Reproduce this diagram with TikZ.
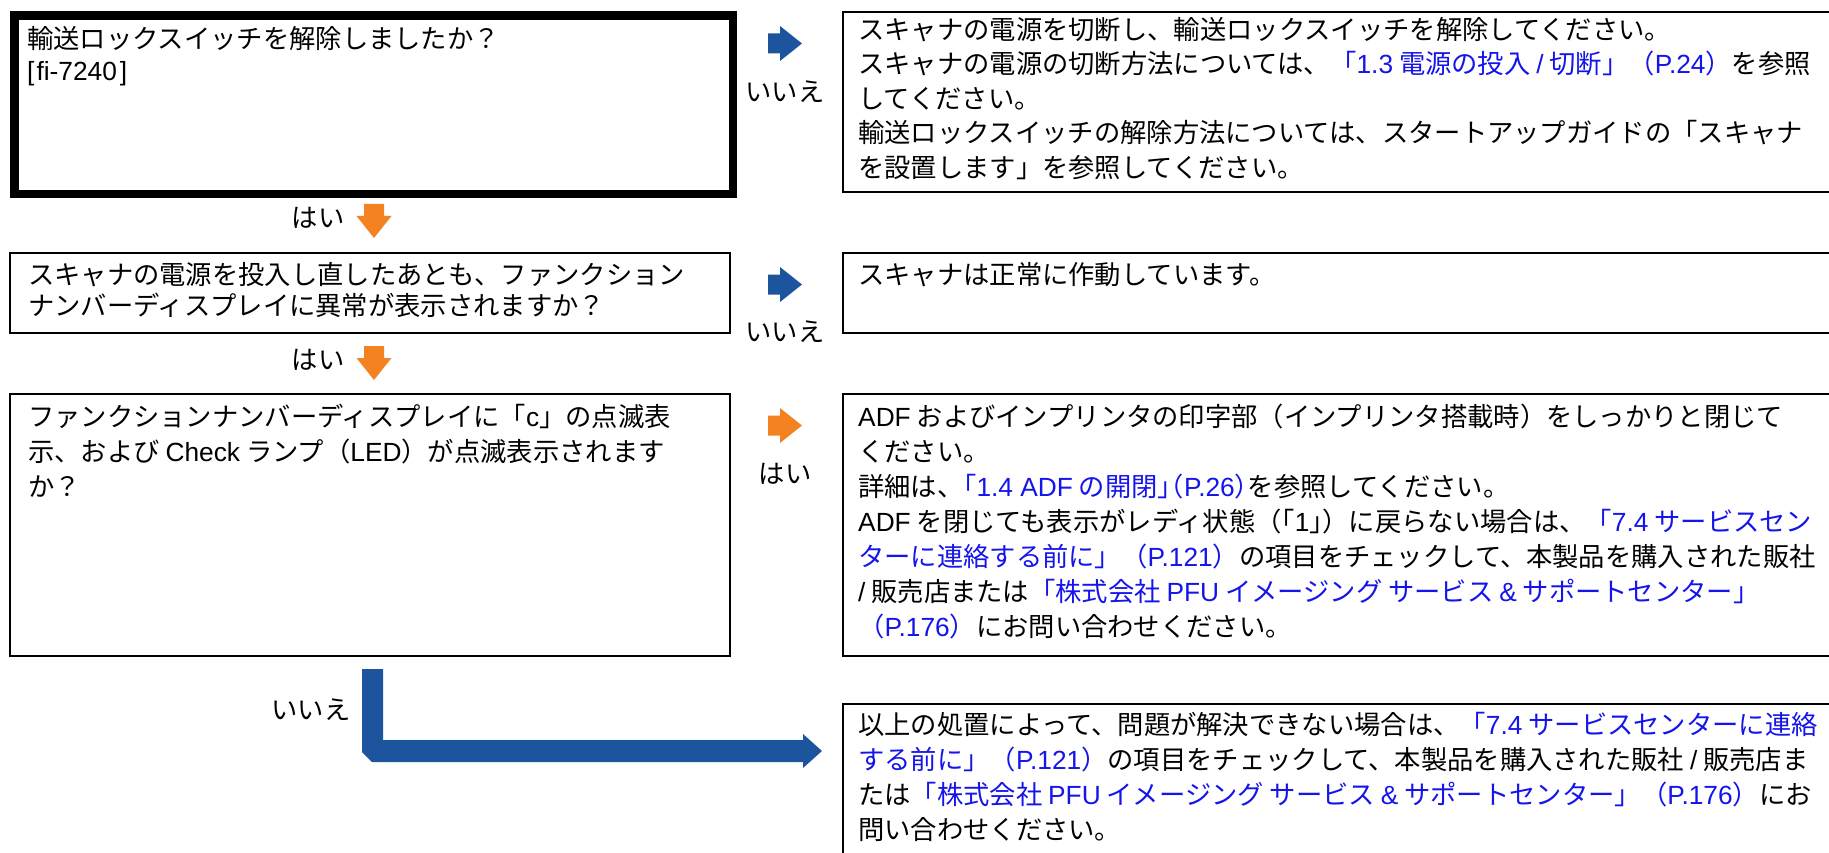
\documentclass[tikz,border=0pt]{standalone}
\usepackage{fontspec}
\setmainfont{Noto Sans CJK JP}
\newfontfamily\latinfont{Liberation Sans}
\definecolor{arrowblue}{RGB}{28,84,158}
\definecolor{arroworange}{RGB}{245,130,32}
\definecolor{linkblue}{RGB}{20,20,235}
\newcommand\ltn[1]{{\latinfont #1}}
\newcommand\lk[1]{{\color{linkblue}#1}}
\newcommand\hw[1]{{\addfontfeature{RawFeature=+halt}#1}}
\begin{document}
\begin{tikzpicture}[x=1pt,y=-1pt,
  box/.style={draw=black, line width=2pt, inner sep=0pt, anchor=north west},
  txt/.style={anchor=north west, inner sep=0pt, align=left, font=\fontsize{26.3}{35}\selectfont},
  lbl/.style={inner sep=0pt, font=\fontsize{26.3}{30}\selectfont},
  rarr/.pic={\fill (-17,-10) -- (-5,-10) -- (-5,-17.5) -- (17,0) -- (-5,17.5) -- (-5,10) -- (-17,10) -- cycle;},
  darr/.pic={\fill (-10,-17) -- (10,-17) -- (10,-5) -- (17.5,-5) -- (0,17) -- (-17.5,-5) -- (-10,-5) -- cycle;}]
\useasboundingbox (0,0) rectangle (1829,853);
\clip (0,0) rectangle (1829,853);
% boxes
\node[box, line width=8.5pt, minimum width=718.5, minimum height=178.5] (q1) at (10.25,11.25) {};
\node[box, minimum width=1000, minimum height=180] (a1) at (842,11) {};
\node[box, minimum width=720, minimum height=80] (q2) at (9,252) {};
\node[box, minimum width=1000, minimum height=80] (a2) at (842,252) {};
\node[box, minimum width=720, minimum height=262] (q3) at (9,393) {};
\node[box, minimum width=1000, minimum height=262] (a3) at (842,393) {};
\node[box, minimum width=1000, minimum height=200] (a4) at (842,703) {};
% texts
\node[txt, font=\fontsize{26.3}{32}\selectfont] (tq1) at (27,26) {輸送ロックスイッチを解除しましたか？\\\ltn{[\kern2pt fi-7240\kern3pt]}};
\node[txt, font=\fontsize{26.3}{34.5}\selectfont] (ta1) at (858,17) {スキャナの電源を切断し、輸送ロックスイッチを解除してください。\\
スキャナの電源の切断方法については、\lk{「\ltn{1.3} 電源の投入 \ltn{/} 切断」（\ltn{P.24}）}を参照\\
してください。\\
輸送ロックスイッチの解除方法については、スタートアップガイドの「スキャナ\\
を設置します」を参照してください。};
\node[txt, font=\fontsize{26.3}{31}\selectfont] (tq2) at (28,262) {スキャナの電源を投入し直したあとも、ファンクション\\ナンバーディスプレイに異常が表示されますか？};
\node[txt] (ta2) at (858,262) {スキャナは正常に作動しています。};
\node[txt] (tq3) at (28,404) {ファンクションナンバーディスプレイに「\ltn{c}」の点滅表\\
示、および \ltn{Check} ランプ（\ltn{LED}）が点滅表示されます\\
か？};
\node[txt] (ta3) at (858,404) {\ltn{ADF} およびインプリンタの印字部（インプリンタ搭載時）をしっかりと閉じて\\
ください。\\
詳細は\hw{、}\lk{「\ltn{1.4 ADF} の開閉\hw{」（}\ltn{P.26}\hw{）}}を参照してください。\\
\ltn{ADF} を閉じても表示がレディ状態（\hw{「}\ltn{1}\hw{」}）に戻らない場合は、\lk{「\ltn{7.4} サービスセン}\\
\lk{ターに連絡する前に」（\ltn{P.121}）}の項目をチェックして、本製品を購入された販社\\
\ltn{/} 販売店または\lk{「株式会社 \ltn{PFU} イメージング サービス \ltn{\&} サポートセンター」}\\
\lk{（\ltn{P.176}）}にお問い合わせください。};
\node[txt] (ta4) at (858,712) {以上の処置によって、問題が解決できない場合は、\lk{「\ltn{7.4} サービスセンターに連絡}\\
\lk{する前に」（\ltn{P.121}）}の項目をチェックして、本製品を購入された販社 \ltn{/} 販売店ま\\
たは\lk{「株式会社 \ltn{PFU} イメージング サービス \ltn{\&} サポートセンター」（\ltn{P.176}）}にお\\
問い合わせください。};
% labels
\node[lbl] (n1) at (785,92) {いいえ};
\node[lbl] (n2) at (785,332) {いいえ};
\node[lbl] (y3) at (785,474) {はい};
\node[lbl] (y1) at (318,218) {はい};
\node[lbl] (y2) at (318,360) {はい};
\node[lbl] (n3) at (311,710) {いいえ};
% block arrows
\path (785,43.5) pic[color=arrowblue] {rarr};
\path (785,284.5) pic[color=arrowblue] {rarr};
\path (785,425.5) pic[color=arroworange] {rarr};
\path (374,221) pic[color=arroworange] {darr};
\path (374,363) pic[color=arroworange] {darr};
% L-shaped arrow from q3 to a4
\fill[arrowblue] (362,669) -- (383,669) -- (383,740) -- (803,740) -- (803,734) -- (822,751) -- (803,768) -- (803,762) -- (372,762) -- (362,752) -- cycle;
\end{tikzpicture}
\end{document}
